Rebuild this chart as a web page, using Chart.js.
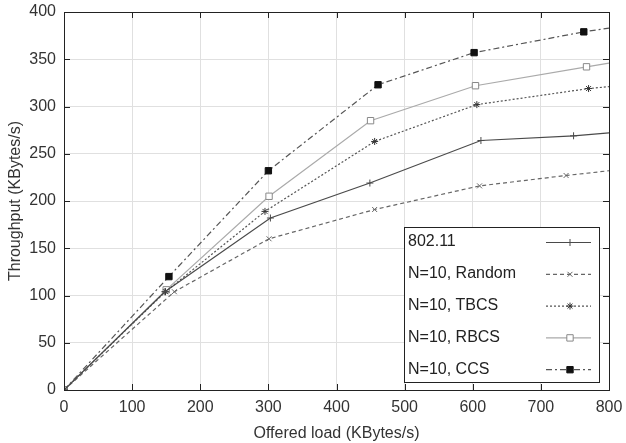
<!DOCTYPE html>
<html>
<head>
<meta charset="utf-8">
<script src="https://cdn.jsdelivr.net/npm/chart.js@4/dist/chart.umd.min.js"></script>
<style>
  html, body { margin: 0; padding: 0; background: #fff; }
  #wrap { width: 626px; height: 443px; position: relative; }
</style>
</head>
<body>
<div id="wrap"><canvas id="chart"></canvas></div>
<script>
// offered load (x) and throughput (y) per series
const load80211 = [0, 148, 303, 449, 612, 748, 800]
const thr80211 = [0, 104, 182, 219, 264, 269, 272]

const loadRandom = [0, 162, 301, 456, 610, 737, 800]
const thrRandom = [0, 104, 160, 191, 216, 227, 232]

const loadTbcs = [0, 149, 295, 456, 606, 770, 800]
const thrTbcs = [0, 104, 189, 263, 302, 319, 321]

const loadRbcs = [0, 150, 301, 450, 604, 767, 800]
const thrRbcs = [0, 106, 205, 285, 322, 342, 346]

const loadCcs = [0, 154, 300, 461, 602, 763, 800]
const thrCcs = [0, 120, 232, 323, 357, 379, 383]

const xTicks = [0, 100, 200, 300, 400, 500, 600, 700, 800]
const yTicks = [0, 50, 100, 150, 200, 250, 300, 350, 400]

const FONT = '"Liberation Sans", Arial, sans-serif'

const toPoints = (xs, ys) => xs.map((x, i) => ({ x, y: ys[i] }))
// the last point sits on the right frame, no marker there
const radii = (n, r) => Array.from({ length: n }, (_, i) => (i === n - 1 ? 0 : r))

const seriesConfig = [
  { label: '802.11', xs: load80211, ys: thr80211, color: '#4a4a4a', dash: [], style: 'cross', fill: '#4a4a4a', r: 3.5 },
  { label: 'N=10, Random', xs: loadRandom, ys: thrRandom, color: '#666', dash: [4, 3], style: 'crossRot', fill: '#666', r: 3.5 },
  { label: 'N=10, TBCS', xs: loadTbcs, ys: thrTbcs, color: '#555', dash: [2, 2], style: 'star', fill: '#333', r: 3.5 },
  { label: 'N=10, RBCS', xs: loadRbcs, ys: thrRbcs, color: '#aaa', dash: [], style: 'rect', fill: '#fff', r: 4.5 },
  { label: 'N=10, CCS', xs: loadCcs, ys: thrCcs, color: '#555', dash: [6, 3, 2, 3], style: 'rect', fill: '#111', r: 4.5 },
]

const datasets = seriesConfig.map((s) => ({
  label: s.label,
  data: toPoints(s.xs, s.ys),
  borderColor: s.color,
  borderWidth: 1.2,
  borderDash: s.dash,
  pointStyle: s.style,
  pointRadius: radii(s.xs.length, s.r),
  pointBorderColor: s.style === 'rect' && s.fill === '#fff' ? '#888' : s.fill,
  pointBackgroundColor: s.fill,
  pointBorderWidth: 1,
  tension: 0,
  fill: false,
}))

// gnuplot-like frame with inward ticks on all four sides
const framePlugin = {
  id: 'frame',
  afterDraw(chart) {
    const { ctx, chartArea: a, scales } = chart
    ctx.save()
    ctx.strokeStyle = '#222'
    ctx.lineWidth = 1
    ctx.strokeRect(a.left + 0.5, a.top + 0.5, a.right - a.left, a.bottom - a.top)
    ctx.beginPath()
    xTicks.forEach((v) => {
      const px = Math.round(scales.x.getPixelForValue(v)) + 0.5
      ctx.moveTo(px, a.bottom); ctx.lineTo(px, a.bottom - 6)
      ctx.moveTo(px, a.top); ctx.lineTo(px, a.top + 6)
    })
    yTicks.forEach((v) => {
      const py = Math.round(scales.y.getPixelForValue(v)) + 0.5
      ctx.moveTo(a.left, py); ctx.lineTo(a.left + 6, py)
      ctx.moveTo(a.right, py); ctx.lineTo(a.right - 6, py)
    })
    ctx.stroke()
    ctx.restore()
  },
}

// legend box in the lower right, text left and line sample right
const legendPlugin = {
  id: 'boxLegend',
  afterDraw(chart) {
    const { ctx, chartArea: a } = chart
    const w = 195, h = 155
    const x0 = a.right - 10 - w
    const y0 = a.bottom - 8 - h
    ctx.save()
    ctx.fillStyle = '#fff'
    ctx.fillRect(x0, y0, w, h)
    ctx.strokeStyle = '#222'
    ctx.lineWidth = 1
    ctx.strokeRect(x0 + 0.5, y0 + 0.5, w, h)
    const rowH = 31.8
    chart.data.datasets.forEach((ds, i) => {
      const cy = y0 + 15 + i * rowH
      ctx.fillStyle = '#222'
      ctx.font = `16px ${FONT}`
      ctx.textBaseline = 'middle'
      ctx.textAlign = 'left'
      ctx.fillText(ds.label, x0 + 4, cy)
      ctx.strokeStyle = ds.borderColor
      ctx.lineWidth = ds.borderWidth
      ctx.setLineDash(ds.borderDash)
      ctx.beginPath()
      ctx.moveTo(x0 + 142, cy + 0.5)
      ctx.lineTo(x0 + 187, cy + 0.5)
      ctx.stroke()
      ctx.setLineDash([])
      ctx.fillStyle = ds.pointBackgroundColor
      ctx.strokeStyle = ds.pointBorderColor
      ctx.lineWidth = 1
      Chart.helpers.drawPoint(ctx, {
        pointStyle: ds.pointStyle,
        radius: ds.pointRadius[1],
        borderWidth: 1,
        rotation: 0,
      }, x0 + 166, cy + 0.5)
    })
    ctx.restore()
  },
}

new Chart(document.getElementById('chart'), {
  type: 'line',
  data: { datasets },
  plugins: [framePlugin, legendPlugin],
  options: {
    responsive: true,
    maintainAspectRatio: false,
    animation: false,
    layout: { padding: { top: 12, right: 17, left: 6, bottom: 0 } },
    plugins: {
      legend: { display: false },
      tooltip: { enabled: false },
    },
    scales: {
      x: {
        type: 'linear',
        min: 0,
        max: 800,
        afterBuildTicks: (axis) => { axis.ticks = xTicks.map((v) => ({ value: v })) },
        afterFit: (axis) => {
          axis.height = 53
          axis.paddingLeft = 0
          axis.paddingRight = 0
        },
        ticks: { color: '#333', font: { family: FONT, size: 16 }, padding: 8, maxRotation: 0 },
        grid: { color: '#e0e0e0', drawTicks: false },
        border: { display: false },
        title: {
          display: true,
          text: 'Offered load (KBytes/s)',
          color: '#333',
          font: { family: FONT, size: 16 },
          padding: { top: 2, bottom: 0 },
        },
      },
      y: {
        min: 0,
        max: 400,
        afterBuildTicks: (axis) => { axis.ticks = yTicks.map((v) => ({ value: v })) },
        afterFit: (axis) => {
          axis.width = 58
          axis.paddingTop = 0
          axis.paddingBottom = 0
        },
        ticks: { color: '#333', font: { family: FONT, size: 16 }, padding: 8 },
        grid: { color: '#e0e0e0', drawTicks: false },
        border: { display: false },
        title: {
          display: true,
          text: 'Throughput (KBytes/s)',
          color: '#333',
          font: { family: FONT, size: 16 },
          padding: { top: 0, bottom: 0 },
        },
      },
    },
  },
})
</script>
</body>
</html>
